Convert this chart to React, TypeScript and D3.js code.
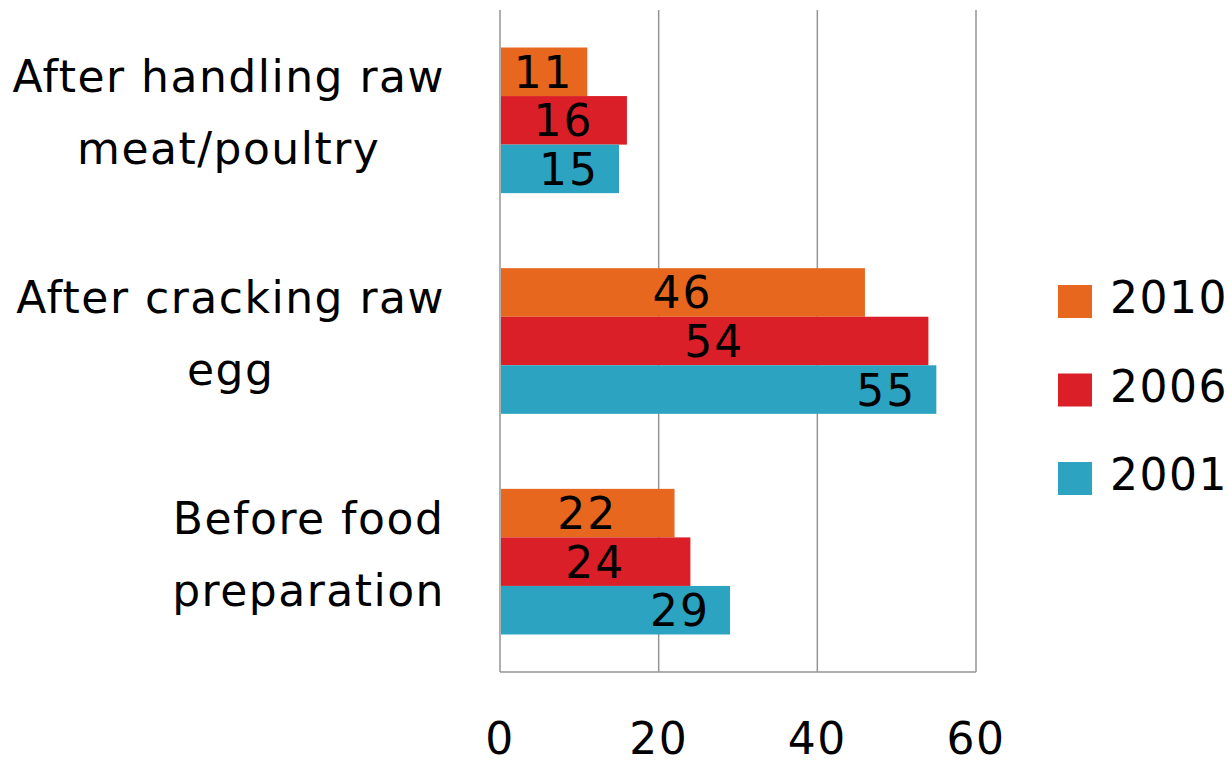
import React, { useEffect, useRef } from "react";
import * as d3 from "d3";

const categories = [
  ["After handling raw", "meat/poultry"],
  ["After cracking raw", "egg"],
  ["Before food", "preparation"],
];
const seriesNames = ["2010", "2006", "2001"];
const seriesColors = ["#E8671E", "#DA1F28", "#2BA3C1"];
const values2010 = [11, 46, 22];
const values2006 = [16, 54, 24];
const values2001 = [15, 55, 29];
const labelAlign = ["center", "center", "end"];
const xTicks = [0, 20, 40, 60];

const W = 1230;
const H = 765;
const FONT = "'DejaVu Sans', sans-serif";

export default function App() {
  const ref = useRef<SVGSVGElement | null>(null);

  useEffect(() => {
    const svg = d3.select(ref.current);
    svg.selectAll("*").remove();

    const left = 500, right = 976, top = 10, bottom = 672;
    const x = d3.scaleLinear().domain([0, 60]).range([left, right]);
    const y = d3.scaleBand<number>().domain([0, 1, 2]).range([top, bottom]).paddingInner(0.34).paddingOuter(0.17);
    const inner = d3.scaleBand<number>().domain([0, 1, 2]).range([0, y.bandwidth()]);
    const series = [values2010, values2006, values2001];

    // gridlines
    svg.append("g").selectAll("line").data(xTicks).join("line")
      .attr("x1", (d) => x(d)).attr("x2", (d) => x(d))
      .attr("y1", top).attr("y2", bottom)
      .attr("stroke", "#949494").attr("stroke-width", 1.5);
    svg.append("line").attr("x1", left).attr("x2", right).attr("y1", bottom).attr("y2", bottom)
      .attr("stroke", "#949494").attr("stroke-width", 1.5);

    // bars
    series.forEach((vals, si) => {
      const g = svg.append("g");
      g.selectAll("rect").data(vals).join("rect")
        .attr("x", x(0) + 1)
        .attr("y", (_, i) => (y(i) as number) + (inner(si) as number))
        .attr("width", (d) => x(d) - x(0) - 1)
        .attr("height", inner.bandwidth())
        .attr("fill", seriesColors[si]);
      g.selectAll("text").data(vals).join("text")
        .attr("x", (d) => labelAlign[si] === "end" ? x(d) - 20 : (x(0) + x(d)) / 2)
        .attr("y", (_, i) => (y(i) as number) + (inner(si) as number) + inner.bandwidth() / 2 + 16)
        .attr("text-anchor", labelAlign[si] === "end" ? "end" : "middle")
        .attr("font-family", FONT).attr("font-size", 44).attr("letter-spacing", 2).attr("fill", "#000")
        .text((d) => String(d));
    });

    // category labels
    const rightEdge = 445;
    categories.forEach((lines, i) => {
      const cy = (y(i) as number) + y.bandwidth() / 2;
      const g = svg.append("g");
      const texts = g.selectAll("text").data(lines).join("text")
        .attr("y", (_, li) => cy - 28 + li * 72)
        .attr("text-anchor", "middle")
        .attr("font-family", FONT).attr("font-size", 44).attr("letter-spacing", 1.5).attr("fill", "#000")
        .text((d) => d);
      let maxW = 0;
      texts.each(function () {
        maxW = Math.max(maxW, (this as SVGTextElement).getComputedTextLength());
      });
      texts.attr("x", rightEdge - maxW / 2);
    });

    // x tick labels
    svg.append("g").selectAll("text").data(xTicks).join("text")
      .attr("x", (d) => x(d)).attr("y", 754)
      .attr("text-anchor", "middle")
      .attr("font-family", FONT).attr("font-size", 44).attr("letter-spacing", 1.5).attr("fill", "#000")
      .text((d) => String(d));

    // legend
    const lg = svg.append("g");
    seriesNames.forEach((name, i) => {
      const yy = 285 + i * 88.5;
      lg.append("rect").attr("x", 1058).attr("y", yy).attr("width", 34).attr("height", 33).attr("fill", seriesColors[i]);
      lg.append("text").attr("x", 1110).attr("y", yy + 28)
        .attr("font-family", FONT).attr("font-size", 44).attr("letter-spacing", 1.5).attr("fill", "#000").text(name);
    });
  }, []);

  return (
    <svg ref={ref} width={W} height={H}
      style={{ position: "absolute", left: 0, top: 0, background: "#fff" }} />
  );
}
